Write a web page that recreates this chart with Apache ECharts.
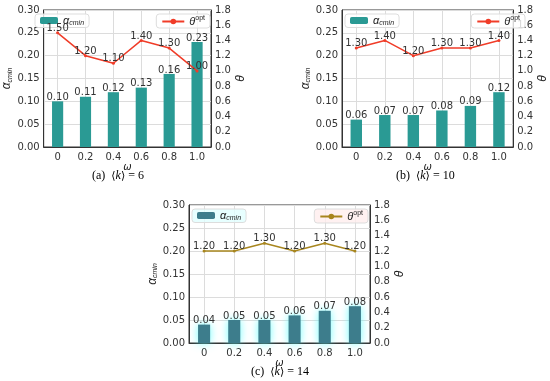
<!DOCTYPE html>
<html><head><meta charset="utf-8">
<script src="https://cdn.jsdelivr.net/npm/echarts@6/dist/echarts.min.js"></script>
<style>html,body{margin:0;padding:0;background:#fff}#c{width:550px;height:381px}</style>
</head><body><div id="c"></div>
<script>
const categories = ['0','0.2','0.4','0.6','0.8','1.0'];
const alphaA = [0.10,0.11,0.12,0.13,0.16,0.23];
const thetaA = [1.50,1.20,1.10,1.40,1.30,1.00];
const alphaB = [0.06,0.07,0.07,0.08,0.09,0.12];
const thetaB = [1.30,1.40,1.20,1.30,1.30,1.40];
const alphaC = [0.04,0.05,0.05,0.06,0.07,0.08];
const thetaC = [1.20,1.20,1.30,1.20,1.30,1.20];

const panels = [
  {grid:{left:32,top:10,width:179,height:137}, alpha:alphaA, theta:thetaA, bar:'#2a9a94', line:'#f03c28', lgA:{left:35,top:14}, lgT:{right:340,top:14}, glow:false},
  {grid:{left:342,top:10,width:185,height:137}, alpha:alphaB, theta:thetaB, bar:'#2a9a94', line:'#f03c28', lgA:{left:345,top:14}, lgT:{right:25,top:14}, glow:false},
  {grid:{left:189,top:205,width:181,height:138}, alpha:alphaC, theta:thetaC, bar:'#3d7d8c', line:'#a8861e', lgA:{left:192,top:209}, lgT:{right:182,top:209}, glow:true}
];

const axisTxt = {color:'#333', fontSize:10, fontFamily:'DejaVu Sans'};
const lblTxt = {color:'#333', fontSize:10, fontFamily:'DejaVu Sans'};
const grids=[], xAxes=[], yAxes=[], series=[], legends=[];
panels.forEach((p,i)=>{
  grids.push(Object.assign({show:true, borderColor:'#333', borderWidth:1, containLabel:false, z:0}, p.grid));
  xAxes.push({type:'category', gridIndex:i, data:categories, boundaryGap:true,
    axisLine:{lineStyle:{color:'#333'}}, axisTick:{show:false},
    axisLabel:Object.assign({margin:5}, axisTxt),
    splitLine:{show:false},
    name:'ω', nameLocation:'middle', nameGap:8, nameTextStyle:{fontStyle:'italic', fontSize:10, color:'#222', fontFamily:'DejaVu Sans', verticalAlign:'top'}
  });
  yAxes.push({type:'value', gridIndex:i, min:0, max:0.30, interval:0.05, position:'left',
    axisLine:{show:true, lineStyle:{color:'#333'}}, axisTick:{show:false},
    axisLabel:Object.assign({formatter:v=>v.toFixed(2), margin:4}, axisTxt),
    splitLine:{show:true, lineStyle:{color:'#dcdcdc'}},
    name:'{a|α}{s|cmin}', nameLocation:'middle', nameGap:25, nameRotate:90,
    nameTextStyle:{rich:{a:{fontSize:12, fontStyle:'italic', color:'#222'}, s:{fontSize:7, fontStyle:'italic', color:'#222', verticalAlign:'bottom', padding:[6,0,0,0]}}}
  });
  yAxes.push({type:'value', gridIndex:i, min:0, max:1.8, interval:0.2, position:'right',
    axisLine:{show:true, lineStyle:{color:'#333'}}, axisTick:{show:false},
    axisLabel:Object.assign({formatter:v=>v.toFixed(1), margin:4}, axisTxt),
    splitLine:{show:false},
    name:'θ', nameLocation:'middle', nameGap:11, nameRotate:90,
    nameTextStyle:{fontSize:12, fontStyle:'italic', color:'#222'}
  });
  const aName = 'alpha'+i, tName = 'theta'+i;
  // vertical grid lines at category centres (matplotlib style), drawn beneath the bars
  series.push({name:'vgrid'+i, type:'line', xAxisIndex:i, yAxisIndex:2*i, data:p.alpha, z:1,
    symbol:'none', lineStyle:{opacity:0}, silent:true, tooltip:{show:false},
    markLine:{z:1, silent:true, symbol:'none', label:{show:false}, lineStyle:{color:'#dcdcdc', type:'solid', width:1},
      data:categories.map(c=>({xAxis:c}))}
  });
  series.push({name:aName, type:'bar', xAxisIndex:i, yAxisIndex:2*i, data:p.alpha, barWidth:'40%', z:2,
    itemStyle:Object.assign({color:p.bar}, p.glow?{shadowColor:'rgba(80,255,255,0.8)', shadowBlur:8}:{}),
    label:Object.assign({show:true, position:'top', distance:-1, formatter:o=>o.value.toFixed(2)}, lblTxt)
  });
  series.push({name:tName, type:'line', xAxisIndex:i, yAxisIndex:2*i+1, data:p.theta, z:4,
    symbol:'circle', symbolSize:3, lineStyle:{color:p.line, width:1.5}, itemStyle:{color:p.line},
    label:Object.assign({show:true, position:'top', distance:-2, formatter:o=>o.value.toFixed(2)}, lblTxt)
  });
  const lgBase = {orient:'horizontal', itemWidth:18, itemHeight:7, padding:[1,5,1,5], borderColor:'#ddd', borderWidth:1, borderRadius:3, z:3,
    backgroundColor: p.glow ? 'rgba(225,255,255,0.8)' : 'rgba(255,255,255,0.8)'};
  legends.push(Object.assign({}, lgBase, p.lgA, {data:[aName],
    formatter:()=> '{a|α}{s|cmin}',
    textStyle:{rich:{a:{fontSize:11, fontStyle:'italic', color:'#222'}, s:{fontSize:7, fontStyle:'italic', color:'#222', padding:[5,0,0,0]}}}}));
  legends.push(Object.assign({}, lgBase, p.lgT, {data:[tName], itemWidth:22,
    backgroundColor: p.glow ? 'rgba(255,238,238,0.8)' : 'rgba(255,255,255,0.8)',
    formatter:()=> '{a|θ}{s|opt}',
    textStyle:{rich:{a:{fontSize:11, fontStyle:'italic', color:'#222'}, s:{fontSize:7, color:'#222', padding:[0,0,6,0]}}}}));
});

const capRich = {
  t:{fontFamily:'Liberation Serif', fontSize:12, color:'#111'},
  b:{fontFamily:'DejaVu Serif', fontSize:11, color:'#111'},
  k:{fontFamily:'Liberation Serif', fontSize:12, fontStyle:'italic', color:'#111'}
};
function cap(x,y,letter,val){
  return {type:'text', left:x, top:y, style:{text:'{t|('+letter+')  }{b|⟨}{k|k}{b|⟩}{t| = '+val+'}', rich:capRich}};
}
const chart = echarts.init(document.getElementById('c'), null, {renderer:'canvas'});
chart.setOption({
  animation:false,
  grid:grids, xAxis:xAxes, yAxis:yAxes, series:series, legend:legends,
  graphic:[cap(92,170,'a','6'), cap(396,170,'b','10'), cap(251,366,'c','14')]
});
</script></body></html>
